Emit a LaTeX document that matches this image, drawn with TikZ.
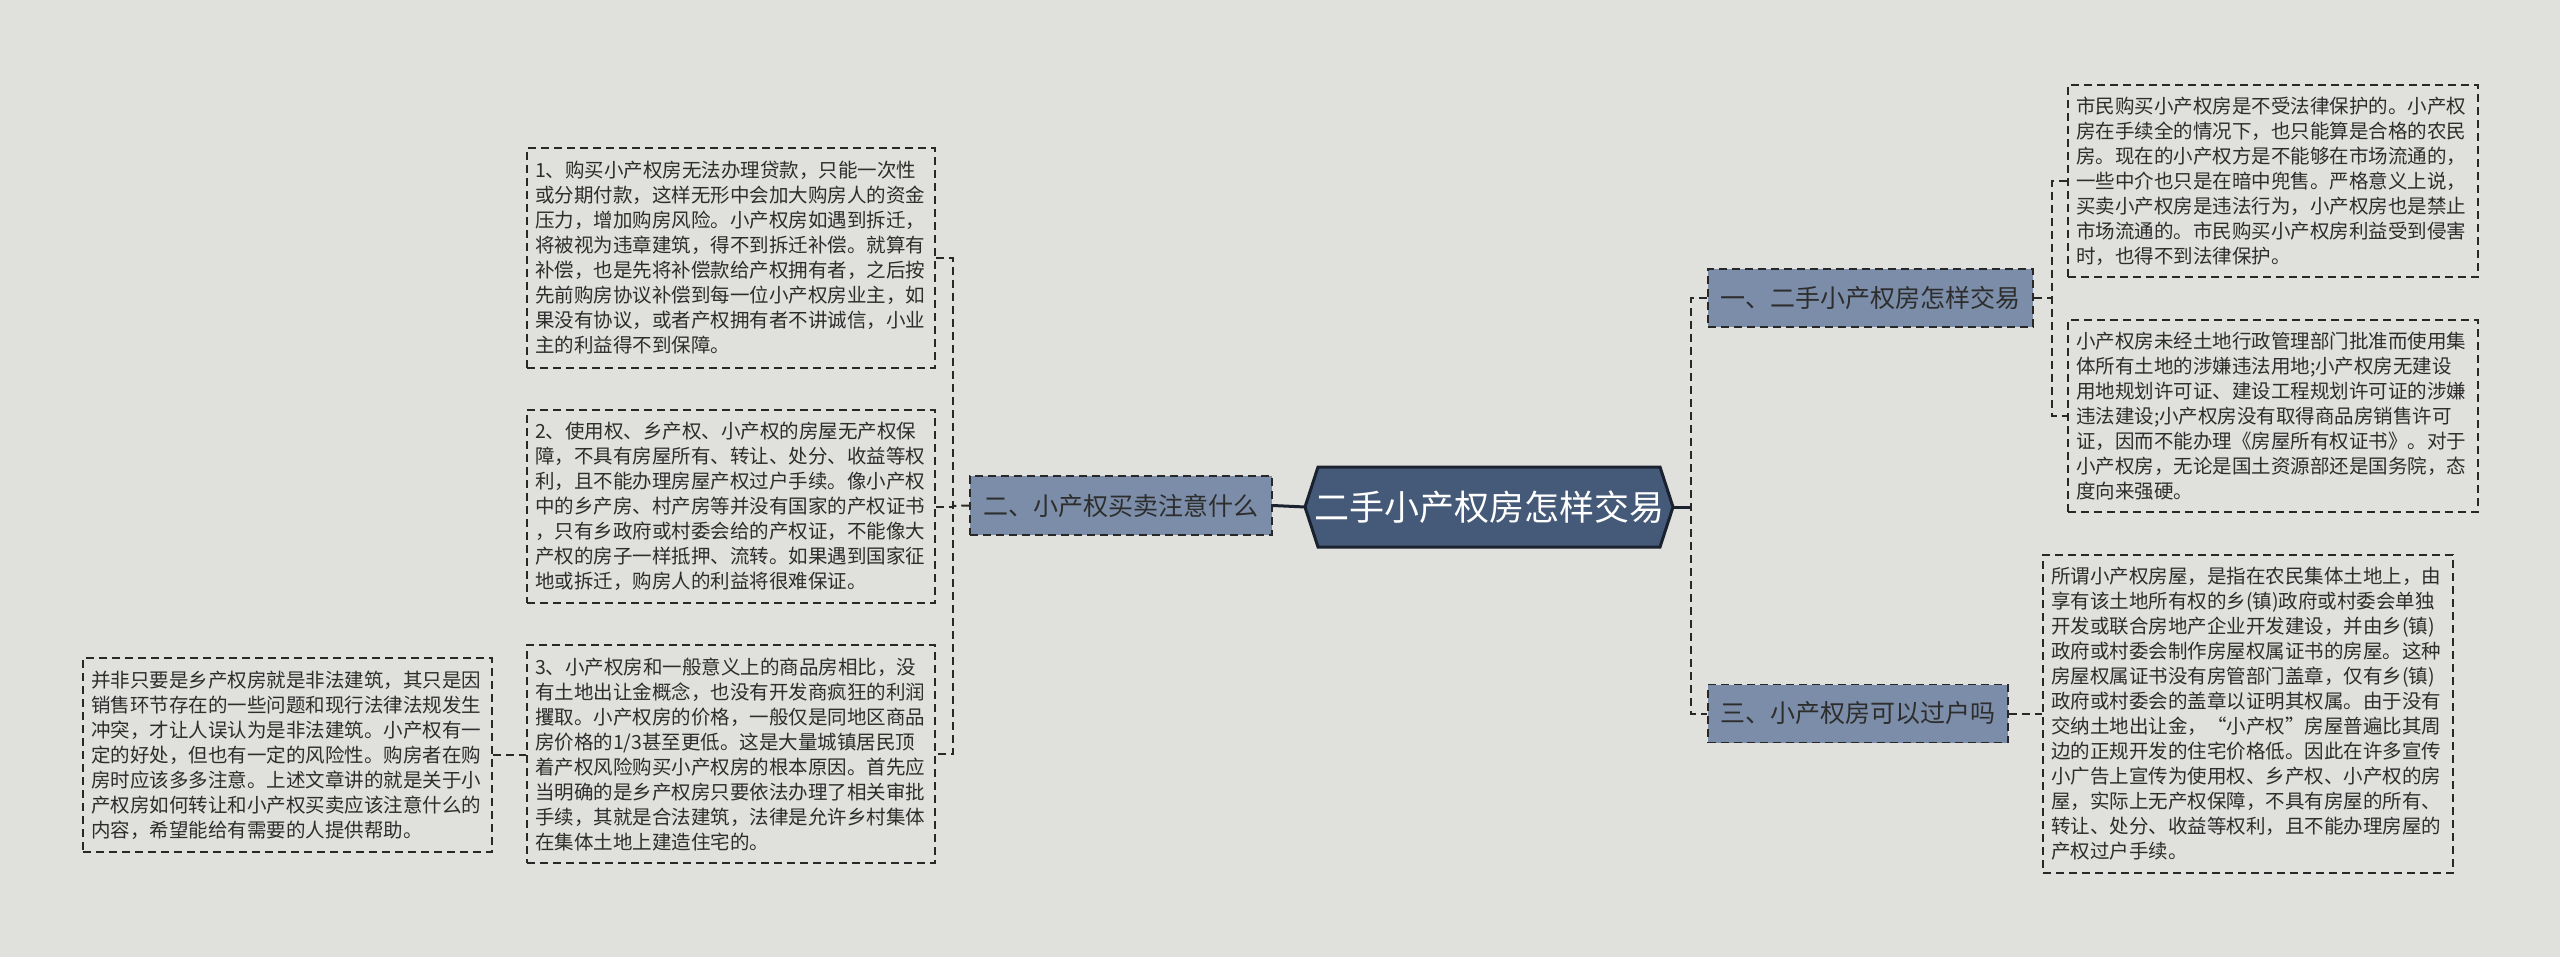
\documentclass[tikz,border=0pt]{standalone}
\usepackage{fontspec}
\newfontfamily\cjk{Noto Sans CJK SC}
\definecolor{bg}{RGB}{224,224,220}
\definecolor{rootfill}{RGB}{69,90,120}
\definecolor{rootline}{RGB}{26,34,48}
\definecolor{midfill}{RGB}{123,141,168}
\definecolor{ink}{RGB}{45,45,45}
\definecolor{lineclr}{RGB}{40,40,40}
\tikzset{
  leaf/.style={draw=lineclr, line width=0.75pt, dash pattern=on 4pt off 2.5pt, fill=none,
    align=left, inner xsep=4pt, inner ysep=0pt, text=ink,
    font=\cjk\fontsize{9.75}{12.5}\selectfont},
  mid/.style={draw=lineclr, line width=0.75pt, dash pattern=on 4pt off 2.5pt, fill=midfill,
    inner sep=0pt, text=ink, font=\cjk\fontsize{12.5}{15}\selectfont},
  conn/.style={draw=lineclr, line width=1pt, dash pattern=on 4pt off 2.5pt},
  solidconn/.style={draw=rootline, line width=1.5pt},
  rootshape/.style={fill=rootfill, draw=rootline, line width=1.5pt, line join=miter}
}
\begin{document}
\begin{tikzpicture}[x=0.5pt,y=-0.5pt]
\useasboundingbox (0,0) rectangle (2560,957);
\fill[bg] (0,0) rectangle (2560,957);

% root
\draw[rootshape] (1305,507) -- (1318,467) -- (1660,467) -- (1673,507) -- (1660,547) -- (1318,547) -- cycle;
\node[text=white, font=\cjk\fontsize{17.5}{21}\selectfont, inner sep=0pt] (root) at (1489,507) {二手小产权房怎样交易};
\coordinate (rootW) at (1305,507);
\coordinate (rootE) at (1673,507);

% level 1
\node[mid, minimum width=162.5pt, minimum height=29pt] (n1) at (1870.5,298) {一、二手小产权房怎样交易};
\node[mid, minimum width=151pt, minimum height=29.5pt] (n2) at (1121,505.5) {二、小产权买卖注意什么};
\node[mid, minimum width=150pt, minimum height=29pt] (n3) at (1858,713.5) {三、小产权房可以过户吗};

% left leaves
\node[leaf, text width=196pt, minimum width=204pt, minimum height=110pt] (L1) at (731,258) {1、购买小产权房无法办理贷款，只能一次性\\或分期付款，这样无形中会加大购房人的资金\\压力，增加购房风险。小产权房如遇到拆迁，\\将被视为违章建筑，得不到拆迁补偿。就算有\\补偿，也是先将补偿款给产权拥有者，之后按\\先前购房协议补偿到每一位小产权房业主，如\\果没有协议，或者产权拥有者不讲诚信，小业\\主的利益得不到保障。};
\node[leaf, text width=196pt, minimum width=204pt, minimum height=96.5pt] (L2) at (731,506.5) {2、使用权、乡产权、小产权的房屋无产权保\\障，不具有房屋所有、转让、处分、收益等权\\利，且不能办理房屋产权过户手续。像小产权\\中的乡产房、村产房等并没有国家的产权证书\\，只有乡政府或村委会给的产权证，不能像大\\产权的房子一样抵押、流转。如果遇到国家征\\地或拆迁，购房人的利益将很难保证。};
\node[leaf, text width=196pt, minimum width=204pt, minimum height=109pt] (L3) at (731,754) {3、小产权房和一般意义上的商品房相比，没\\有土地出让金概念，也没有开发商疯狂的利润\\攫取。小产权房的价格，一般仅是同地区商品\\房价格的1/3甚至更低。这是大量城镇居民顶\\着产权风险购买小产权房的根本原因。首先应\\当明确的是乡产权房只要依法办理了相关审批\\手续，其就是合法建筑，法律是允许乡村集体\\在集体土地上建造住宅的。};
\node[leaf, text width=196.5pt, minimum width=204.5pt, minimum height=97pt] (L4) at (287.5,755) {并非只要是乡产权房就是非法建筑，其只是因\\销售环节存在的一些问题和现行法律法规发生\\冲突，才让人误认为是非法建筑。小产权有一\\定的好处，但也有一定的风险性。购房者在购\\房时应该多多注意。上述文章讲的就是关于小\\产权房如何转让和小产权买卖应该注意什么的\\内容，希望能给有需要的人提供帮助。};

% right leaves
\node[leaf, text width=197pt, minimum width=205pt, minimum height=96pt] (R1) at (2273,181) {市民购买小产权房是不受法律保护的。小产权\\房在手续全的情况下，也只能算是合格的农民\\房。现在的小产权方是不能够在市场流通的，\\一些中介也只是在暗中兜售。严格意义上说，\\买卖小产权房是违法行为，小产权房也是禁止\\市场流通的。市民购买小产权房利益受到侵害\\时，也得不到法律保护。};
\node[leaf, text width=197pt, minimum width=205pt, minimum height=96pt] (R2) at (2273,416) {小产权房未经土地行政管理部门批准而使用集\\体所有土地的涉嫌违法用地;小产权房无建设\\用地规划许可证、建设工程规划许可证的涉嫌\\违法建设;小产权房没有取得商品房销售许可\\证，因而不能办理《房屋所有权证书》。对于\\小产权房，无论是国土资源部还是国务院，态\\度向来强硬。};
\node[leaf, text width=197pt, minimum width=205pt, minimum height=159pt] (R3) at (2248,714) {所谓小产权房屋，是指在农民集体土地上，由\\享有该土地所有权的乡(镇)政府或村委会单独\\开发或联合房地产企业开发建设，并由乡(镇)\\政府或村委会制作房屋权属证书的房屋。这种\\房屋权属证书没有房管部门盖章，仅有乡(镇)\\政府或村委会的盖章以证明其权属。由于没有\\交纳土地出让金，“小产权”房屋普遍比其周\\边的正规开发的住宅价格低。因此在许多宣传\\小广告上宣传为使用权、乡产权、小产权的房\\屋，实际上无产权保障，不具有房屋的所有、\\转让、处分、收益等权利，且不能办理房屋的\\产权过户手续。};

% spine coordinates
\coordinate (spL) at (953,506);
\coordinate (spR) at (1691,507);
\coordinate (spR2) at (2052,298);

% connectors
\draw[solidconn] (n2.east) -- (rootW);
\draw[solidconn] (rootE) -- (spR);
\draw[conn] (n2.west) -- (spL);
\draw[conn] (L1.east) -| (spL) |- (L3.east);
\draw[conn] (L2.east) -- (L2.east -| spL);
\draw[conn] (L4.east) -- (L4.east -| L3.west);
\draw[conn] (n1.west) -| (spR) |- (n3.west);
\draw[conn] (R1.west) -| (spR2) |- (R2.west);
\draw[conn] (n1.east) -- (spR2);
\draw[conn] (n3.east) -- (n3.east -| R3.west);
\end{tikzpicture}
\end{document}
